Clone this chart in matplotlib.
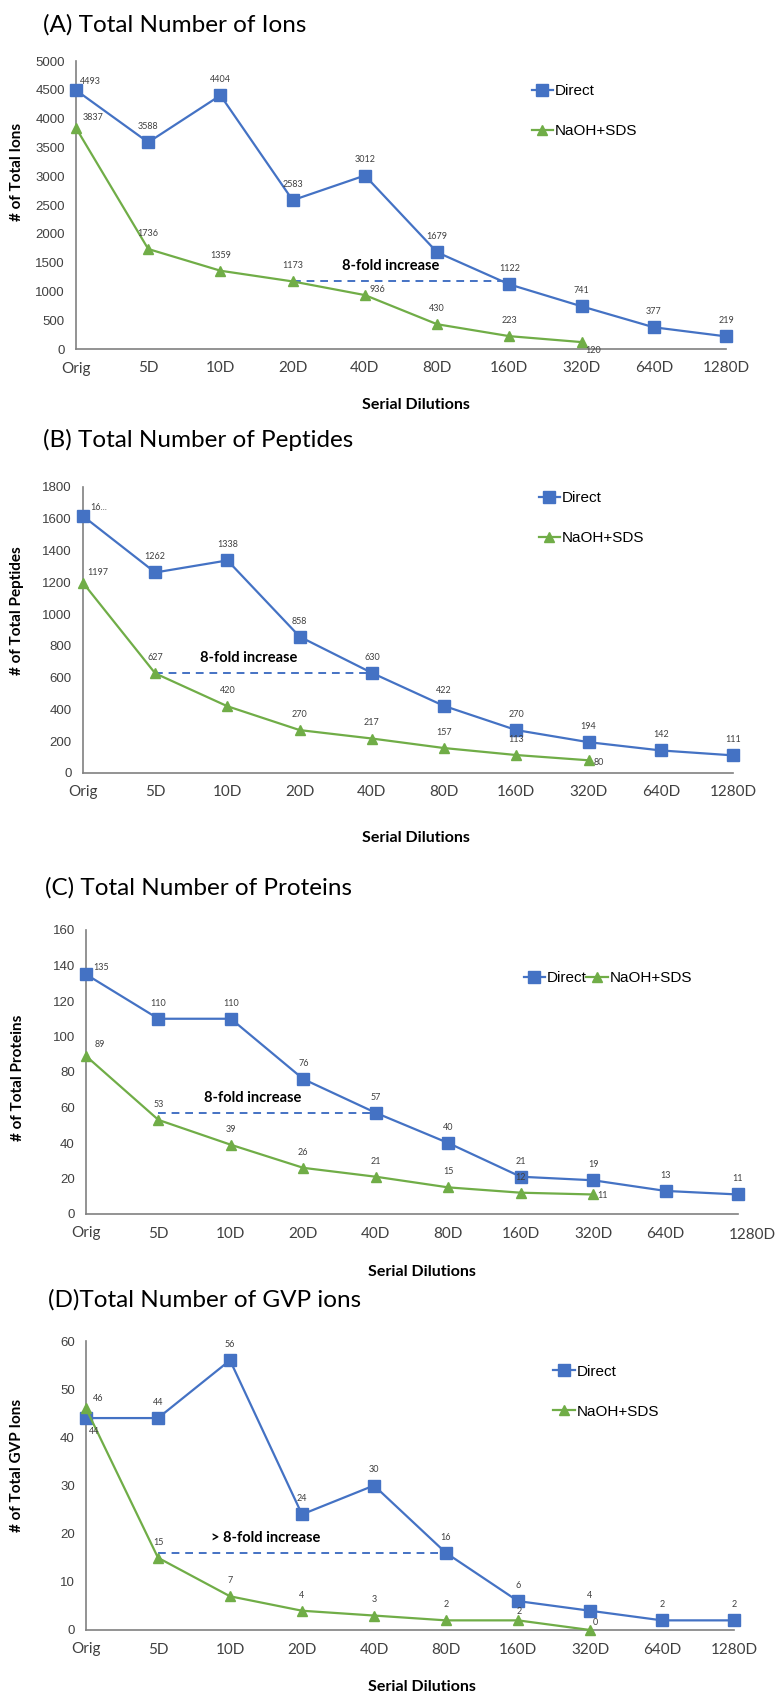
import matplotlib
matplotlib.use('Agg')
from matplotlib import pyplot as plt

plt.rcParams['font.family'] = ['Lato', 'DejaVu Sans']

W, H = 776, 1695
BLUE = '#4472C4'
GREEN = '#70AD47'
GRAY = '#808080'
TXT = '#404040'

categories = ['Orig', '5D', '10D', '20D', '40D', '80D', '160D', '320D', '640D', '1280D']

ions_direct = [4493, 3588, 4404, 2583, 3012, 1679, 1122, 741, 377, 219]
ions_naoh = [3837, 1736, 1359, 1173, 936, 430, 223, 120]

pep_direct = [1617, 1262, 1338, 858, 630, 422, 270, 194, 142, 111]
pep_naoh = [1197, 627, 420, 270, 217, 157, 113, 80]

prot_direct = [135, 110, 110, 76, 57, 40, 21, 19, 13, 11]
prot_naoh = [89, 53, 39, 26, 21, 15, 12, 11]

gvp_direct = [44, 44, 56, 24, 30, 16, 6, 4, 2, 2]
gvp_naoh = [46, 15, 7, 4, 3, 2, 2, 0]


def rect(l, t, r, b):
    return [l / W, 1 - b / H, (r - l) / W, (b - t) / H]


def px(x, y):
    return x / W, 1 - y / H


fig = plt.figure(figsize=(W / 100, H / 100), dpi=100)

panels = [
    dict(title='(A) Total Number of Ions', ylabel='# of Total Ions',
         box=(76, 61, 726, 349), ymax=5000, step=500,
         direct=ions_direct, naoh=ions_naoh,
         title_xy=(43, 25), ylab_xy=(17, 172), xlab_xy=(416, 405),
         leg=dict(loc='center left', bbox_to_anchor=(0.68, 0.825), ncol=1, labelspacing=1.7),
         span=(3, 6, 1173), note='8-fold increase', note_xy=(4.36, 1440),
         off_d={0: (3, 3, 'left')}, off_n={0: (5, 4, 'left'), 4: (3, 1, 'left'), 7: (3, -9, 'left')}),
    dict(title='(B) Total Number of Peptides', ylabel='# of Total Peptides',
         box=(83, 487, 733, 773), ymax=1800, step=200,
         direct=pep_direct, naoh=pep_naoh,
         title_xy=(43, 440), ylab_xy=(17, 611), xlab_xy=(416, 838),
         leg=dict(loc='center left', bbox_to_anchor=(0.68, 0.89), ncol=1, labelspacing=1.7),
         span=(1, 4, 630), note='8-fold increase', note_xy=(2.3, 722),
         off_d={0: (5, 3, 'left')}, off_n={0: (3, 4, 'left'), 7: (4, -5, 'left')},
         lab_d={0: '16...'}),
    dict(title='(C) Total Number of Proteins', ylabel='# of Total Proteins',
         box=(86, 930, 738, 1214), ymax=160, step=20,
         direct=prot_direct, naoh=prot_naoh,
         title_xy=(45, 888), ylab_xy=(18, 1078), xlab_xy=(422, 1272),
         leg=dict(loc='center left', bbox_to_anchor=(0.65, 0.83), ncol=2, labelspacing=1.0,
                  columnspacing=0.0),
         span=(1, 4, 57), note='8-fold increase', note_xy=(2.3, 65.5),
         off_d={0: (5, 2, 'left')}, off_n={0: (6, 5, 'left'), 7: (3, -4, 'left')},
         shift_last=True),
    dict(title='(D)Total Number of GVP ions', ylabel='# of Total GVP Ions',
         box=(86, 1341, 734, 1630), ymax=60, step=10,
         direct=gvp_direct, naoh=gvp_naoh,
         title_xy=(48, 1300), ylab_xy=(17, 1465), xlab_xy=(422, 1687),
         leg=dict(loc='center left', bbox_to_anchor=(0.7, 0.825), ncol=1, labelspacing=1.7),
         span=(1, 5, 16), note='> 8-fold increase', note_xy=(2.5, 19.0),
         off_d={0: (2, -13, 'left')}, off_n={0: (5, 4, 'left'), 6: (1, 3, 'center'), 7: (2, 2, 'left')}),
]

for p in panels:
    ax = fig.add_axes(rect(*p['box']))
    xs_d = list(range(len(p['direct'])))
    xs_n = list(range(len(p['naoh'])))
    ax.plot(xs_d, p['direct'], color=BLUE, lw=1.6, marker='s', ms=8,
            label='Direct', clip_on=False, zorder=3)
    ax.plot(xs_n, p['naoh'], color=GREEN, lw=1.6, marker='^', ms=7.5,
            label='NaOH+SDS', clip_on=False, zorder=3)

    # dashed fold-change line
    x0, x1, yv = p['span']
    ax.plot([x0, x1], [yv, yv], color=BLUE, lw=1.4, ls=(0, (4, 3)), zorder=2)
    ax.text(p['note_xy'][0], p['note_xy'][1], p['note'], ha='center', va='center',
            fontsize=10.5, fontweight='bold', color='black')

    # data labels
    for series, offs, labs in [(p['direct'], p.get('off_d', {}), p.get('lab_d', {})),
                               (p['naoh'], p.get('off_n', {}), {})]:
        for i, v in enumerate(series):
            dx, dy, ha = offs.get(i, (0, 8, 'center'))
            ax.annotate(labs.get(i, str(v)), (i, v), xytext=(dx, dy), textcoords='offset points',
                        ha=ha, va='bottom', fontsize=6.5, color=TXT)

    ax.set_xlim(0, 9)
    ax.set_ylim(0, p['ymax'])
    ax.set_yticks(range(0, p['ymax'] + 1, p['step']))
    ax.set_xticks(range(len(categories)))
    xlabels = list(categories)
    if p.get('shift_last'):
        # Excel pushed the last category label to the right edge here
        xlabels[-1] = ''
        ax.annotate(categories[-1], (len(categories) - 1, 0), xytext=(10, -10),
                    textcoords='offset points', ha='center', va='top',
                    fontsize=11, color=TXT, annotation_clip=False)
    ax.set_xticklabels(xlabels, fontsize=11, color=TXT)
    for lab in ax.get_yticklabels():
        lab.set_family(['Liberation Sans'])
        lab.set_fontsize(9.5)
        lab.set_color(TXT)
    ax.tick_params(length=0, axis='y', pad=8)
    ax.tick_params(length=0, axis='x', pad=9)
    for s in ['top', 'right']:
        ax.spines[s].set_visible(False)
    for s in ['left', 'bottom']:
        ax.spines[s].set_color(GRAY)
        ax.spines[s].set_linewidth(1.2)

    leg = ax.legend(frameon=False, handlelength=1.4, handletextpad=0.1,
                    prop={'family': 'Liberation Sans', 'size': 11}, **p['leg'])

    fig.text(*px(*p['title_xy']), p['title'], fontsize=17.5, ha='left', va='center')
    fig.text(*px(*p['ylab_xy']), p['ylabel'], fontsize=11, fontweight='bold',
             rotation=90, ha='center', va='center')
    fig.text(*px(*p['xlab_xy']), 'Serial Dilutions', fontsize=11.5, fontweight='bold',
             ha='center', va='center')

fig.savefig('out.png', dpi=100)
